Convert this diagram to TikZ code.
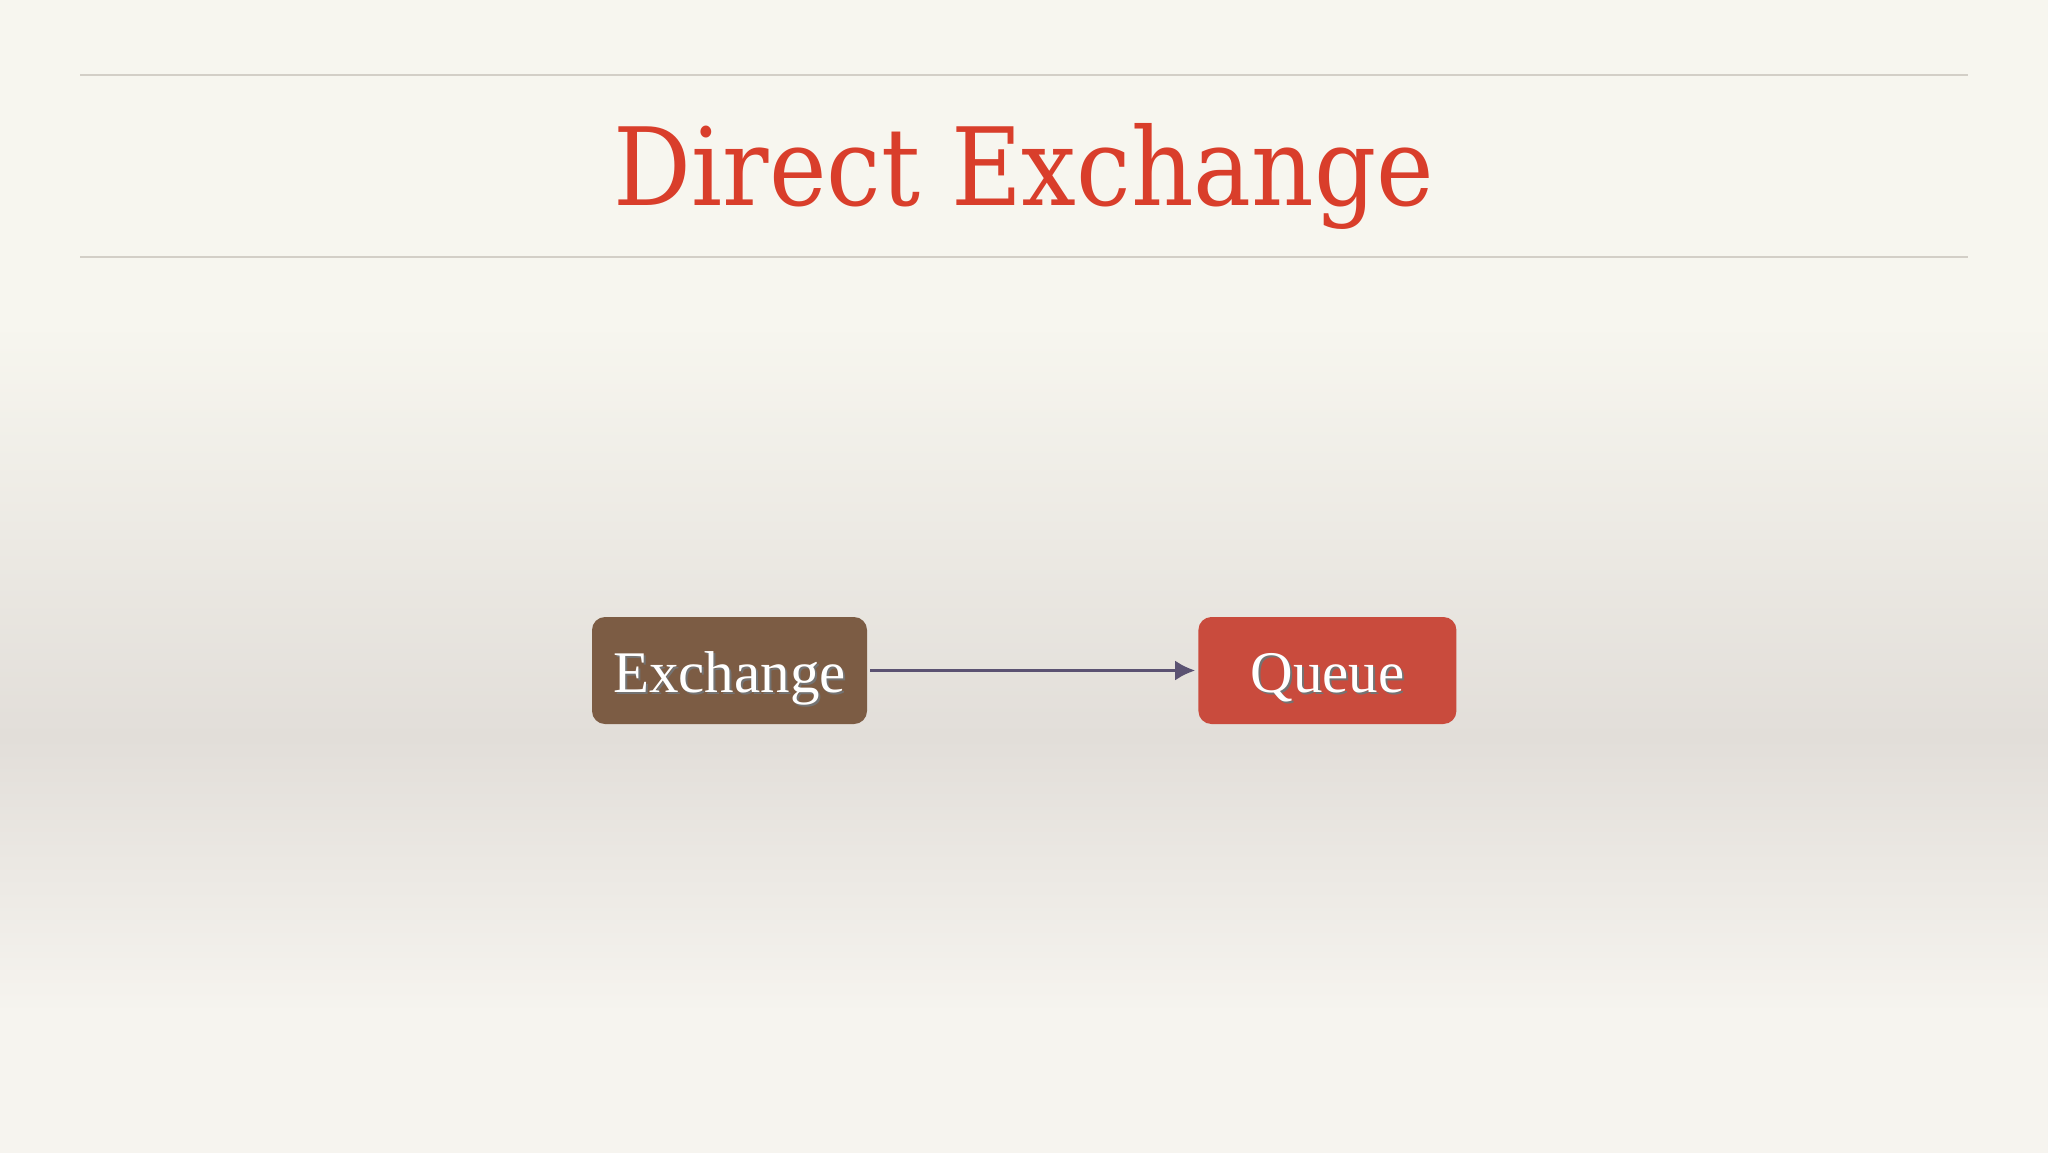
\documentclass[tikz,border=0pt]{standalone}
\usepackage{fontspec}
\setmainfont{Liberation Serif}
\newfontfamily\titlefont{DejaVu Serif Condensed}
\usepackage{xcolor}
\usepackage{tikz}
\usetikzlibrary{arrows.meta}
\usetikzlibrary{positioning}
\definecolor{bgcream}{HTML}{F7F6EF}
\definecolor{bgband}{HTML}{E2DED9}
\definecolor{bgbottom}{HTML}{F6F4EF}
\definecolor{rulegray}{HTML}{D3CFC7}
\definecolor{titlered}{HTML}{D93E2B}
\definecolor{exbrown}{HTML}{7C5C44}
\definecolor{qred}{HTML}{C94B3D}
\definecolor{arrowgray}{HTML}{5B5272}
% stops between 25bp (bottom of slide) and 75bp (top of slide)
\pgfdeclareverticalshading{slidebg}{100bp}{color(0bp)=(bgbottom); color(31bp)=(bgbottom); color(43bp)=(bgband); color(61bp)=(bgcream); color(100bp)=(bgcream)}
\newcommand{\shadowtext}[1]{{\color{black!55}\rlap{\kern2pt\raisebox{-2.5pt}{#1}}}#1}

\begin{document}
\begin{tikzpicture}[
		x=1pt,y=-1pt,
		Rules/.style={draw=rulegray,line width=1.5pt},
		Box/.style={rounded corners=13pt,minimum height=107pt,inner sep=0pt,
			text height=43pt,text depth=0pt,
			text=white,font=\fontsize{59}{59}\selectfont},
		Link/.style={draw=arrowgray,line width=3pt,-{Latex[length=20pt, width=20pt]},shorten <=3pt,shorten >=3pt},
		node distance=331pt
		]
		\useasboundingbox (0,0) rectangle (2048,1152);
		\shade[shading=slidebg] (0,0) rectangle (2048,1152);
		
		\draw[Rules] (80,75)--(1968,75);
		\draw[Rules] (80,257)--(1968,257);
		
		\node[anchor=base,text=titlered,font=\titlefont\fontsize{108}{108}\selectfont] (title) at (1024,205) {Direct Exchange};
		
		\node[Box,fill=exbrown,minimum width=275pt] (exchange) at (729.5,670.5) {\shadowtext{Exchange}};
		\node[Box,fill=qred,minimum width=258pt,right=of exchange] (queue) {\shadowtext{Queue}};
		
		\draw[Link] (exchange)--(queue);
		
		\end{tikzpicture}
\end{document}
